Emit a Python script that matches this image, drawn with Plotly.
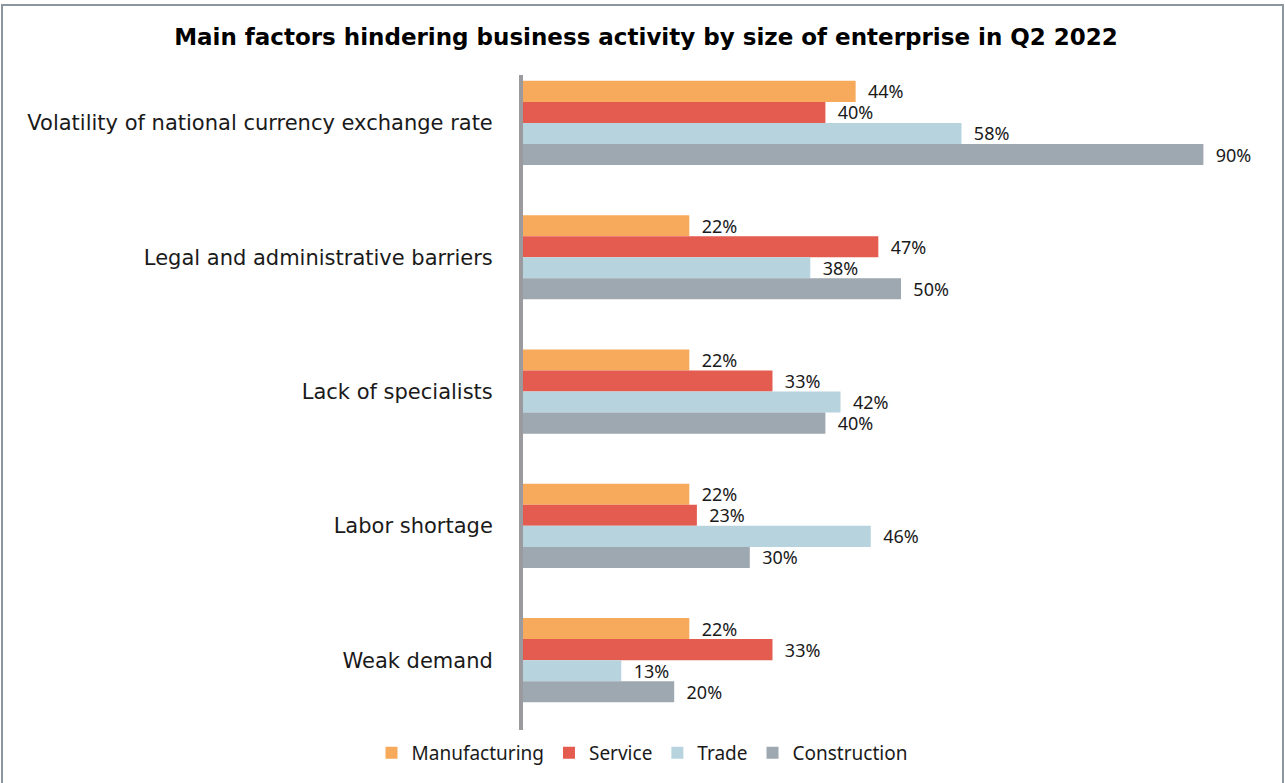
import plotly.graph_objects as go

# Factors (top to bottom) and shares of enterprises citing each factor, %
factors = [
    "Volatility of national currency exchange rate",
    "Legal and administrative barriers",
    "Lack of specialists",
    "Labor shortage",
    "Weak demand",
]
manufacturing = [44, 22, 22, 22, 22]
service = [40, 47, 33, 23, 33]
trade = [58, 38, 42, 46, 13]
construction = [90, 50, 40, 30, 20]

series = [
    ("Manufacturing", manufacturing, "#F8AA5C"),
    ("Service", service, "#E45B4F"),
    ("Trade", trade, "#B7D3DE"),
    ("Construction", construction, "#9EA8B1"),
]

W, H = 1285, 783
ML, MR, MT, MB = 523, 6, 75, 53

fig = go.Figure()
for name, vals, color in series:
    fig.add_trace(go.Bar(
        y=factors,
        x=vals,
        name=name,
        orientation="h",
        marker=dict(color=color, line=dict(width=0)),
        text=vals,
        texttemplate="\u00a0\u00a0%{x}%",
        textposition="outside",
        constraintext="none",
        textangle=0,
        textfont=dict(family="Noto Sans", size=18, color="#1a1a1a"),
        cliponaxis=False,
    ))

plot_w = W - ML - MR
plot_h = H - MT - MB

fig.update_layout(
    width=W,
    height=H,
    margin=dict(l=ML, r=MR, t=MT, b=MB, pad=0),
    paper_bgcolor="white",
    plot_bgcolor="white",
    barmode="group",
    bargap=0.373,
    bargroupgap=0,
    uniformtext=dict(mode=False),
    title=dict(
        text="<b>Main factors hindering business activity by size of enterprise in Q2 2022</b>",
        font=dict(family="DejaVu Sans", size=23, color="black"),
        x=646 / W,
        xanchor="center",
        y=1 - 37 / H,
        yanchor="middle",
    ),
    xaxis=dict(
        range=[0, 100],
        showgrid=False,
        zeroline=False,
        showticklabels=False,
        showline=False,
        ticks="",
    ),
    yaxis=dict(
        type="category",
        categoryorder="array",
        categoryarray=factors,
        range=[4.52, -0.357],
        showgrid=False,
        zeroline=False,
        showline=True,
        linecolor="#9A9A9F",
        linewidth=4,
        ticks="",
        ticklabelstandoff=22,
        tickfont=dict(family="DejaVu Sans", size=21, color="#1a1a1a"),
    ),
    legend=dict(
        orientation="h",
        x=(642 - ML) / plot_w,
        xanchor="center",
        y=-(753 - (H - MB)) / plot_h,
        yanchor="middle",
        font=dict(family="Noto Sans", size=19, color="#1a1a1a"),
        itemwidth=30,
        traceorder="normal",
        bgcolor="rgba(0,0,0,0)",
    ),
    showlegend=True,
)

# Frame around the whole figure
def px_x(p):
    return (p - ML) / plot_w

def px_y(p):
    return (H - MB - p) / plot_h

fig.add_shape(
    type="rect",
    xref="paper", yref="paper",
    x0=px_x(2), x1=px_x(1283), y0=px_y(790), y1=px_y(5),
    line=dict(color="#8C969E", width=2),
    fillcolor="rgba(0,0,0,0)",
    layer="below",
)

fig.write_html("out.html")
